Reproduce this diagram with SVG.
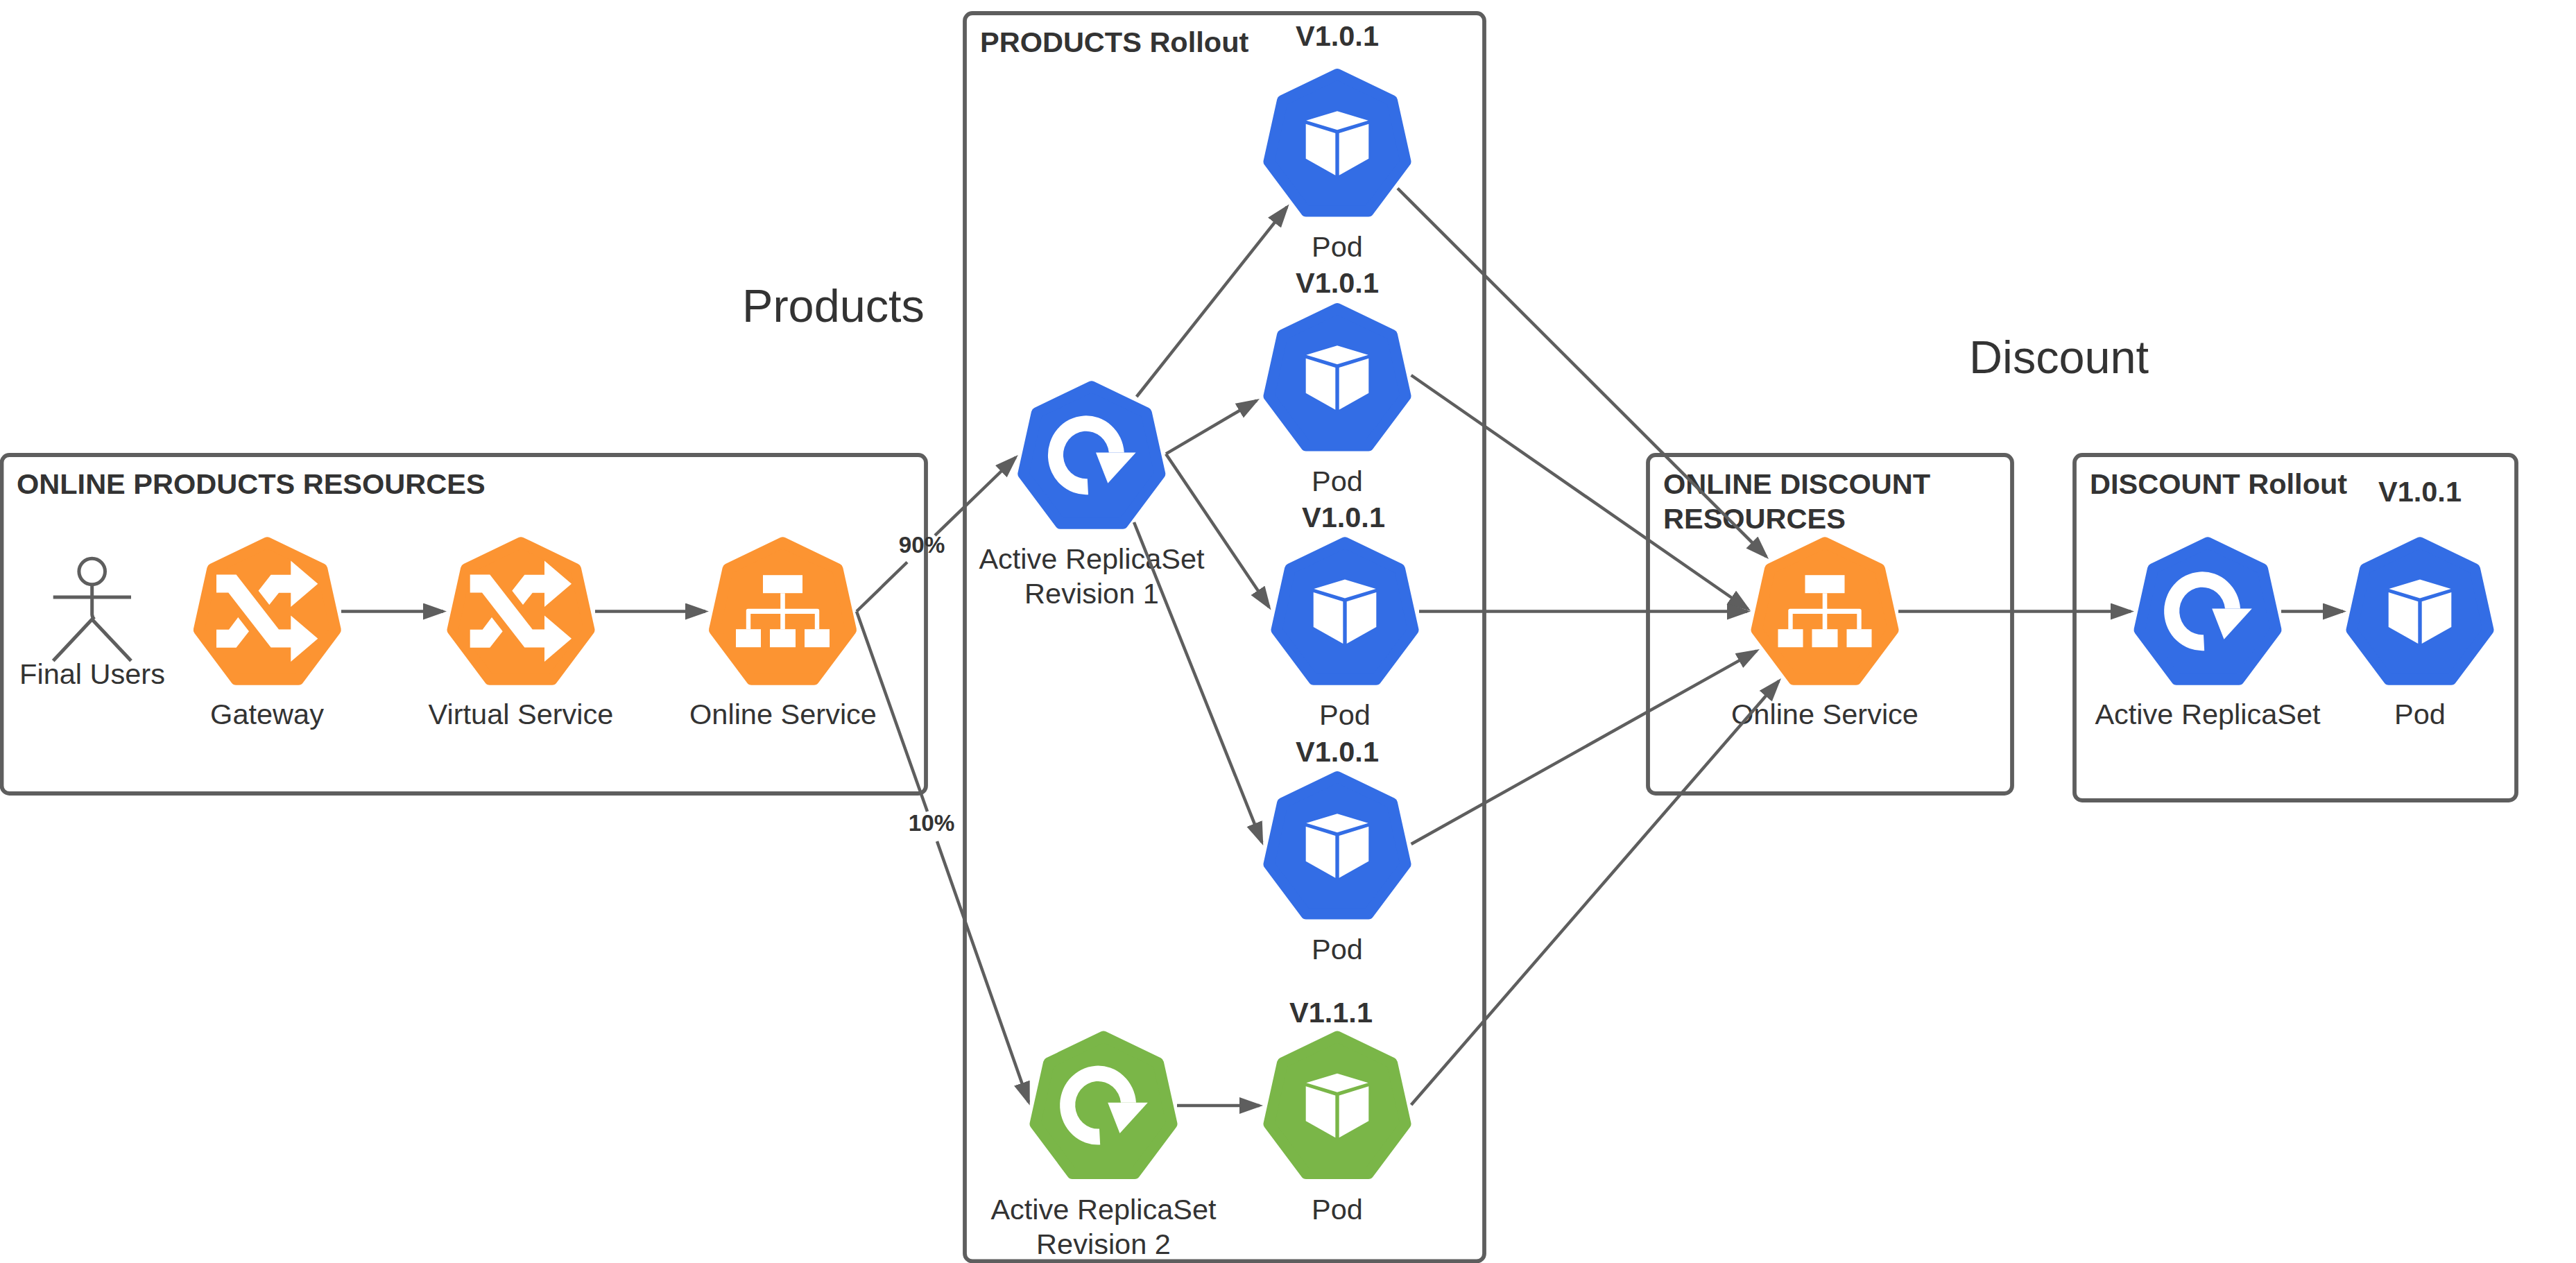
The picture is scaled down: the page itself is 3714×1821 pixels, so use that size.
<svg xmlns="http://www.w3.org/2000/svg" xmlns:xlink="http://www.w3.org/1999/xlink" width="3714" height="1821" viewBox="0 0 3714 1821">
<style>
text{font-family:"Liberation Sans",Arial,sans-serif;font-size:41.5px;fill:#333333}
.c{text-anchor:middle}
.b{font-weight:bold}
.p{font-size:33.3px;font-weight:bold}
.h{font-size:66.6px}
.box{fill:none;stroke:#5e5e5e;stroke-width:5.8}
.con line{stroke:#5e5e5e;stroke-width:4.5;fill:none}
.arr{marker-end:url(#ah)}
.hept{stroke-width:16;stroke-linejoin:round}
.o{fill:#fc9432;stroke:#fc9432}
.bl{fill:#336de5;stroke:#336de5}
.g{fill:#7ab648;stroke:#7ab648}
.w{fill:#ffffff;stroke:none}
.actor{fill:none;stroke:#5e5e5e;stroke-width:5}
</style>
<defs>
<marker id="ah" markerUnits="userSpaceOnUse" markerWidth="36" markerHeight="26" refX="29" refY="12" orient="auto"><path d="M0,0L34,12L0,24Z" fill="#5e5e5e"/></marker>
<polygon id="hept" class="hept" points="0,-99 79,-61 98.5,27 45,98.5 -45,98.5 -98.5,27 -79,-61"/>
<g id="cube"><path class="w" d="M-44.7,-32.3L0,-45.7L44.7,-32.3L0,-18.7Z"/><path class="w" d="M-45.3,-27.3L-2.7,-14V46.7L-45.3,22.7Z"/><path class="w" d="M45.3,-27.3L2.7,-14V46.7L45.3,22.7Z"/></g>
<g id="rs"><path class="w" d="M47,-3.8A55,57 0 1 0 -4.8,57L-6,34A33,34.3 0 1 1 25,-3.8Z"/><path class="w" d="M6.2,-3.8H63.8L23.5,40.5Z"/></g>
<g id="org"><rect class="w" x="-28.5" y="-52" width="57" height="26"/><path class="w" d="M-3.3,-26H3.3V-3.5H50Q52.7,-3.5 52.7,-1V26H46.3V3.8H3.3V26H-3.3V3.8H-46.3V26H-52.7V-1Q-52.7,-3.5 -50,-3.5H-3.3Z"/><rect class="w" x="-67.5" y="26" width="36" height="26"/><rect class="w" x="-18.5" y="26" width="37" height="26"/><rect class="w" x="31.5" y="26" width="36" height="26"/></g>
<g id="cross"><path class="w" d="M-73.3,-52.8H-44.7L16.7,26.2H34V6.2L73,39.5L34,72.8V52.2H5.3L-56,-26.8H-73.3Z"/><path class="w" d="M34,-72.8L73,-39.5L34,-6.2V-26.5H16.7L3,-9.2L-12.7,-29.5L5.3,-52.5H34Z"/><path class="w" d="M-73.3,26.5H-55.3L-42,8.8L-26.3,29L-44.7,52.5H-73.3Z"/></g>
</defs>
<rect width="3714" height="1821" fill="#ffffff"/>
<g id="box-online-products"><rect class="box" x="2.5" y="656" width="1332.5" height="488" rx="11"/><text class="b" x="24" y="712">ONLINE PRODUCTS RESOURCES</text></g>
<g id="box-products-rollout"><rect class="box" x="1391" y="19" width="749" height="1799.5" rx="11"/><text class="b" x="1413" y="75">PRODUCTS Rollout</text></g>
<g id="box-online-discount"><rect class="box" x="2376" y="656" width="525" height="488" rx="11"/><text class="b" x="2398" y="712">ONLINE DISCOUNT</text><text class="b" x="2398" y="762">RESOURCES</text></g>
<g id="box-discount-rollout"><rect class="box" x="2991" y="656" width="637" height="498" rx="11"/><text class="b" x="3013" y="712">DISCOUNT Rollout</text></g>
<g id="title-products"><text class="h" x="1070" y="464">Products</text></g>
<g id="title-discount"><text class="h" x="2839" y="538">Discount</text></g>
<g id="final-users"><circle class="actor" cx="132.7" cy="824" r="18.8"/><path class="actor" d="M132.7,843V886Q133,890 136,893M76.7,861H189" /><path class="actor" d="M76.7,952.7L132.7,893L189,952.7"/><text class="c" x="133" y="985.5">Final Users</text></g>
<g id="gateway"><use xlink:href="#hept" href="#hept" class="o" x="385.3" y="881.2"/><use xlink:href="#cross" href="#cross" x="385.3" y="881.2"/><text class="c" x="385" y="1044">Gateway</text></g>
<g id="virtual-service"><use xlink:href="#hept" href="#hept" class="o" x="751" y="881.2"/><use xlink:href="#cross" href="#cross" x="751" y="881.2"/><text class="c" x="751" y="1044">Virtual Service</text></g>
<g id="online-service-products"><use xlink:href="#hept" href="#hept" class="o" x="1128.5" y="881.2"/><use xlink:href="#org" href="#org" x="1128.5" y="881.2"/><text class="c" x="1129" y="1044">Online Service</text></g>
<g id="replicaset-1"><use xlink:href="#hept" href="#hept" class="bl" x="1573.8" y="656.2"/><use xlink:href="#rs" href="#rs" x="1573.8" y="656.2"/><text class="c" x="1574" y="820">Active ReplicaSet</text><text class="c" x="1574" y="870">Revision 1</text></g>
<g id="replicaset-2"><use xlink:href="#hept" href="#hept" class="g" x="1591" y="1593.5"/><use xlink:href="#rs" href="#rs" x="1591" y="1593.5"/><text class="c" x="1591" y="1758">Active ReplicaSet</text><text class="c" x="1591" y="1808">Revision 2</text></g>
<g id="pod-1"><text class="c b" x="1928" y="66">V1.0.1</text><use xlink:href="#hept" href="#hept" class="bl" x="1928" y="206"/><use xlink:href="#cube" href="#cube" x="1928" y="206"/><text class="c" x="1928" y="370">Pod</text></g>
<g id="pod-2"><text class="c b" x="1928" y="422">V1.0.1</text><use xlink:href="#hept" href="#hept" class="bl" x="1928" y="544"/><use xlink:href="#cube" href="#cube" x="1928" y="544"/><text class="c" x="1928" y="708">Pod</text></g>
<g id="pod-3"><text class="c b" x="1937" y="760">V1.0.1</text><use xlink:href="#hept" href="#hept" class="bl" x="1939" y="881.2"/><use xlink:href="#cube" href="#cube" x="1939" y="881.2"/><text class="c" x="1939" y="1045">Pod</text></g>
<g id="pod-4"><text class="c b" x="1928" y="1098">V1.0.1</text><use xlink:href="#hept" href="#hept" class="bl" x="1928" y="1219"/><use xlink:href="#cube" href="#cube" x="1928" y="1219"/><text class="c" x="1928" y="1383">Pod</text></g>
<g id="pod-green"><text class="c b" x="1919" y="1474">V1.1.1</text><use xlink:href="#hept" href="#hept" class="g" x="1928" y="1593.5"/><use xlink:href="#cube" href="#cube" x="1928" y="1593.5"/><text class="c" x="1928" y="1758">Pod</text></g>
<g id="online-service-discount"><use xlink:href="#hept" href="#hept" class="o" x="2631" y="881.2"/><use xlink:href="#org" href="#org" x="2631" y="881.2"/><text class="c" x="2631" y="1044">Online Service</text></g>
<g id="replicaset-discount"><use xlink:href="#hept" href="#hept" class="bl" x="3183" y="881.2"/><use xlink:href="#rs" href="#rs" x="3183" y="881.2"/><text class="c" x="3183" y="1044">Active ReplicaSet</text></g>
<g id="pod-discount"><text class="c b" x="3489" y="723">V1.0.1</text><use xlink:href="#hept" href="#hept" class="bl" x="3489" y="881.2"/><use xlink:href="#cube" href="#cube" x="3489" y="881.2"/><text class="c" x="3489" y="1044">Pod</text></g>
<g id="connectors" class="con">
<line class="arr" x1="492" y1="881.5" x2="639" y2="881.5"/>
<line class="arr" x1="858" y1="881.5" x2="1017" y2="881.5"/>
<line x1="1235" y1="881.5" x2="1308" y2="810.5"/>
<line class="arr" x1="1348" y1="772" x2="1464.2" y2="659.5"/>
<line x1="1235" y1="881.5" x2="1337" y2="1170"/>
<line class="arr" x1="1351" y1="1213" x2="1483" y2="1589"/>
<line class="arr" x1="1638.7" y1="572" x2="1855.5" y2="298.4"/>
<line class="arr" x1="1681" y1="654.4" x2="1811.7" y2="577.5"/>
<line class="arr" x1="1681" y1="654.4" x2="1829.7" y2="875.3"/>
<line class="arr" x1="1635" y1="753" x2="1819.4" y2="1214.4"/>
<line class="arr" x1="1697" y1="1594" x2="1816" y2="1594"/>
<line class="arr" x1="2015" y1="271.5" x2="2546.5" y2="802.5"/>
<line class="arr" x1="2034.6" y1="541" x2="2520" y2="878"/>
<line class="arr" x1="2046" y1="881.5" x2="2519" y2="881.5"/>
<line class="arr" x1="2034.6" y1="1217" x2="2532.6" y2="938.4"/>
<line class="arr" x1="2034.6" y1="1593" x2="2564.7" y2="981.8"/>
<line class="arr" x1="2737" y1="881.5" x2="3072" y2="881.5"/>
<line class="arr" x1="3289" y1="881.5" x2="3378" y2="881.5"/>
</g>
<g id="connector-labels"><text class="c p" x="1329" y="797">90%</text><text class="c p" x="1343" y="1198">10%</text></g>
</svg>
